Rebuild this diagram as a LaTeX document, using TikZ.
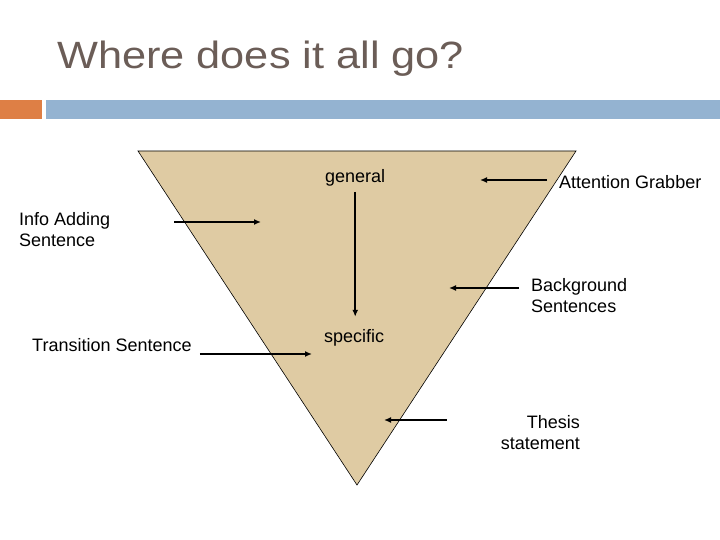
\documentclass[tikz,border=0pt]{standalone}
\usepackage{fontspec}
\setmainfont{Liberation Sans}
\newfontfamily\titlefont[FakeStretch=1.14]{Liberation Sans}
\usepackage{tikz}
\usetikzlibrary{arrows.meta,calc,positioning}
\definecolor{titlegrey}{HTML}{6B5D57}
\definecolor{barorange}{HTML}{DE7F45}
\definecolor{barblue}{HTML}{94B3D1}
\definecolor{funneltan}{HTML}{DFCBA3}
\tikzset{
    label/.style={inner sep=0pt, font=\fontsize{18}{21}\selectfont},
    pointer/.style={line width=1.6pt, -{Latex[length=7pt,width=6pt]}},
}

\begin{document}
\begin{tikzpicture}[x=1pt, y=-1pt]
    \useasboundingbox (0,0) rectangle (720,540);
    \node[anchor=base west, inner sep=0pt, text=titlegrey, font=\titlefont\fontsize{38}{44}\selectfont] (title) at (57,69) {Where does it all go?};
    \fill[barorange] (0,100) rectangle (42,119);
    \fill[barblue] (46,100) rectangle (720,119);
    \filldraw[fill=funneltan, draw=black, line width=0.6pt] (138,151) -- (576,151) -- (357,485) -- cycle;
    % labels (base = last line)
    \node[label, anchor=base west] (general) at (325,183) {general};
    \node[label, anchor=base west] (specific) at (324,342) {specific};
    \node[label, anchor=base west] (attn) at (559,189) {Attention Grabber};
    \node[label, anchor=base west, align=left] (info) at (19,247) {Info Adding\\Sentence};
    \node[label, anchor=base west, align=left] (bg) at (531,312) {Background\\Sentences};
    \node[label, anchor=base west] (trans) at (32,351) {Transition Sentence};
    \node[label, anchor=base east, align=right] (thesis) at (580,449) {Thesis\\statement};
    % arrow tips
    \coordinate (attn-tip) at (480,180);
    \coordinate (info-tip) at (261,222);
    \coordinate (bg-tip) at (449,288);
    \coordinate (trans-tip) at (312,354);
    \coordinate (thesis-tip) at (384,420);
    % arrows
    \draw[pointer, shorten <=5pt, shorten >=12pt] (general.south) -- (general.south |- specific.north);
    \draw[pointer, shorten <=12pt] (attn.west |- attn-tip) -- (attn-tip);
    \draw[pointer, shorten <=64pt] (info.east |- info-tip) -- (info-tip);
    \draw[pointer, shorten <=12pt] (bg.west |- bg-tip) -- (bg-tip);
    \draw[pointer, shorten <=8pt] (trans.east |- trans-tip) -- (trans-tip);
    \draw[pointer, shorten <=54pt] (thesis.west |- thesis-tip) -- (thesis-tip);
\end{tikzpicture}
\end{document}
